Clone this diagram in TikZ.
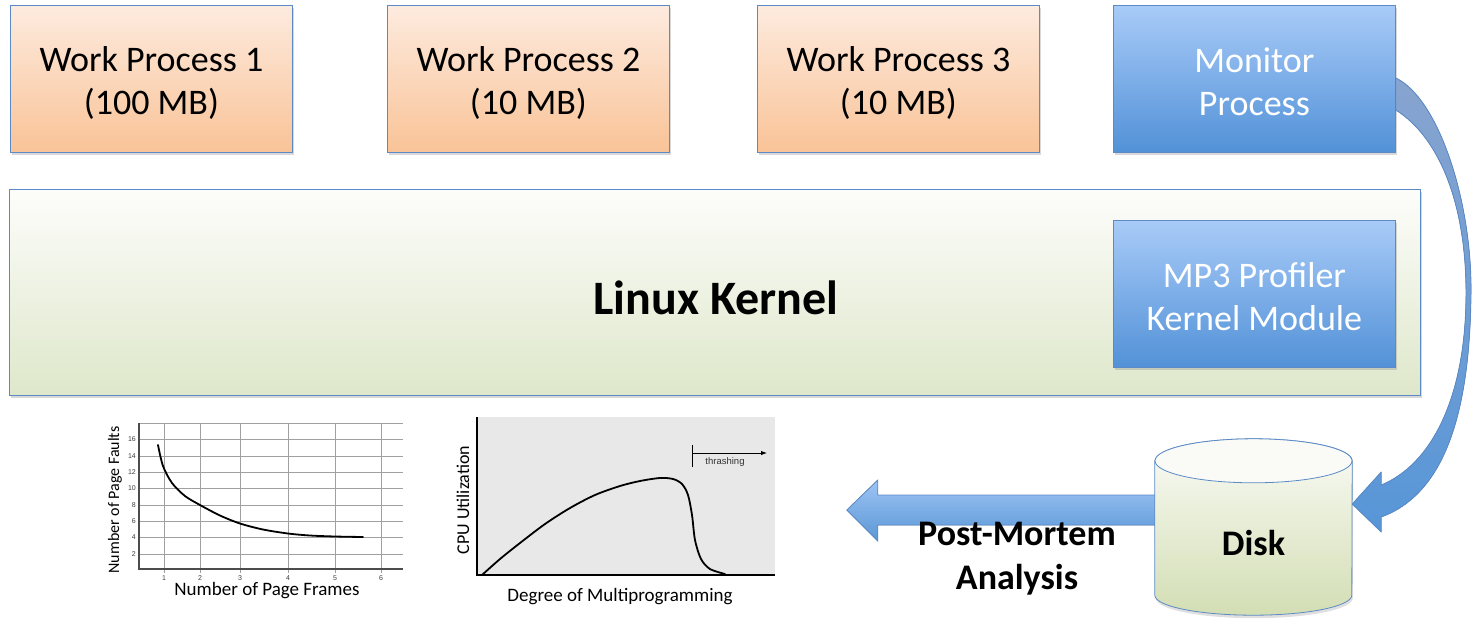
\documentclass[tikz,border=0pt]{standalone}
\usepackage{fontspec}
\setmainfont{Carlito}
\newfontfamily\arialf{Liberation Sans}
\usetikzlibrary{shadows,calc,arrows.meta}
\definecolor{bordblue}{HTML}{5B8AC6}
\definecolor{orTop}{HTML}{FDEBDF}
\definecolor{orBot}{HTML}{F9C397}
\definecolor{blTop}{HTML}{A8CBF8}
\definecolor{blBot}{HTML}{5291D7}
\definecolor{kTop}{HTML}{FDFDFB}
\definecolor{kBot}{HTML}{DEE7CA}
\definecolor{dTop}{HTML}{FAFBF6}
\definecolor{dBot}{HTML}{D3DEB4}
\definecolor{bandTop}{HTML}{88A4CF}
\definecolor{bandBot}{HTML}{5796D8}
\definecolor{arTop}{HTML}{9EC4F4}
\definecolor{arBot}{HTML}{5A97D6}
\definecolor{gridc}{HTML}{A0A0A0}
\definecolor{plotbg}{HTML}{E8E8E8}
\begin{document}
\begin{tikzpicture}[x=1pt,y=-1pt,
  boxshadow/.style={drop shadow={shadow xshift=1.5pt,shadow yshift=-3pt,opacity=0.3}},
  procbox/.style={draw=bordblue, line width=0.8pt, minimum width=282pt, minimum height=147pt,
    anchor=north west, inner sep=0pt, boxshadow},
  orangebox/.style={procbox, top color=orTop, bottom color=orBot},
  bluebox/.style={procbox, top color=blTop, bottom color=blBot},
  boxtext/.style={align=center, inner sep=0pt, font=\fontsize{36}{43}\selectfont},
  blocklbl/.style={font=\fontsize{36}{44}\selectfont\bfseries, align=center},
  tick/.style={font=\arialf\fontsize{7}{8}\selectfont, text=black!75, inner sep=0pt},
  axlbl/.style={inner sep=0pt},
  gridln/.style={draw=gridc, line width=0.9pt},
  curve/.style={line width=1.8pt, line join=round, line cap=round}
]
\useasboundingbox (0,0) rectangle (1480,630);
\fill[white] (0,0) rectangle (1480,630);

% --- top row processes ---
\node[orangebox] (wp1) at (10,5) {};
\node[orangebox] (wp2) at (387,5) {};
\node[orangebox] (wp3) at (757,5) {};
\node[bluebox] (mon) at (1113,5) {};
\node[boxtext] (wp1t) at ($(wp1.center)+(0,4)$) {Work Process 1\\(100 MB)};
\node[boxtext] (wp2t) at ($(wp2.center)+(0,4)$) {Work Process 2\\(10 MB)};
\node[boxtext] (wp3t) at ($(wp3.center)+(0,4)$) {Work Process 3\\(10 MB)};
\node[boxtext, text=white] (mont) at ($(mon.center)+(0,3)$) {Monitor\\Process};

% --- kernel ---
\node[draw=bordblue, line width=0.8pt, top color=kTop, bottom color=kBot, boxshadow,
  minimum width=1411pt, minimum height=206pt, anchor=north west, inner sep=0pt] (kernel) at (9,189) {};
\node[font=\fontsize{48}{58}\selectfont\bfseries, inner sep=0pt] (kernelt) at ($(kernel.center)+(1,5)$) {Linux Kernel};
\node[bluebox] (mp3) at (1113,220) {};
\node[boxtext, text=white] (mp3t) at ($(mp3.center)+(0,3)$) {MP3 Profiler\\Kernel Module};

% --- disk (cylinder) ---
\node[minimum width=197pt, minimum height=176pt, inner sep=0pt] (disk) at (1253.5,527) {};
\coordinate (dtl) at ($(disk.north west)+(0,22)$);
\coordinate (dtr) at ($(disk.north east)+(0,22)$);
\coordinate (dbl) at ($(disk.south west)+(0,-20)$);

% left block arrow (behind disk)
\coordinate (laS1) at ($(disk.west)+(2,-32)$);
\coordinate (laS2) at ($(disk.west)+(2,-2)$);
\coordinate (laTip) at ($(disk.west)+(-308,-17)$);
\fill[top color=arTop, bottom color=arBot, draw=bordblue, line width=0.8pt]
  (laS1) -- ($(laTip)+(31,-15)$) -- ($(laTip)+(31,-30)$) -- (laTip)
  -- ($(laTip)+(31,31)$) -- ($(laTip)+(31,15)$) -- (laS2) -- cycle;

\path[drop shadow={shadow xshift=1pt,shadow yshift=-3pt,opacity=0.25}, top color=dTop, bottom color=dBot, draw=bordblue, line width=0.8pt]
  (dtl) -- (dbl) arc[start angle=180, end angle=0, x radius=98.5, y radius=20]
  -- (dtr) arc[start angle=0, end angle=-180, x radius=98.5, y radius=22] -- cycle;
\draw[bordblue, line width=0.8pt, fill=dTop] ($(dtl)!0.5!(dtr)$) ellipse [x radius=98.5, y radius=22];
\node[font=\fontsize{36}{44}\selectfont\bfseries] (disklbl) at ($(disk.center)+(0,16)$) {Disk};

\node[blocklbl] (pm) at (1017,559) {Post-Mortem\\Analysis};

% --- curved arrow monitor -> disk ---
\coordinate (bA) at ($(mon.north east)+(0,73)$);
\coordinate (bD) at ($(mon.north east)+(0,105)$);
\coordinate (bTip) at ($(disk.east)+(0,-23)$);
\coordinate (bUp) at ($(bTip)+(29,-32)$);
\coordinate (bC) at ($(bTip)+(29,-19)$);
\coordinate (bB) at ($(bTip)+(29,13)$);
\coordinate (bLow) at ($(bTip)+(29,28)$);
\fill[top color=bandTop, bottom color=bandBot, draw=bordblue, line width=0.8pt, line join=round]
  (bA) .. controls (1438,98) and (1472,200) .. (1471,293)
  .. controls (1470,400) and (1450,492) .. (bB)
  -- (bLow) -- (bTip) -- (bUp) -- (bC)
  .. controls (1430,465) and (1466,400) .. (1466,293)
  .. controls (1466,205) and (1440,138) .. (bD) -- cycle;

% --- graph 1: page faults ---
\foreach \gy in {423,439,456,472,488,505,521,537,554}
  \draw[gridln] (139,\gy) -- (403,\gy);
\foreach \gx in {164,200,240,288,335,381}
  \draw[gridln] (\gx,423) -- (\gx,573);
\draw[black!70, line width=1.3pt] (139,423) -- (139,569) -- (403,569);
\foreach \v/\gy in {16/439,14/456,12/472,10/488,8/505,6/521,4/537,2/554}
  \node[tick, anchor=east] (yt\v) at (136,\gy) {\v};
\foreach \v/\gx in {1/164,2/200,3/240,4/288,5/335,6/381}
  \node[tick] (xt\v) at (\gx,578) {\v};
\draw[curve] plot[smooth] coordinates {(158,445) (163,466) (172,483) (185,496)
  (200,505) (220,515.5) (240,523.5) (263,529.5) (288,533.5) (310,535.5) (335,536.5) (363,537)};
\node[axlbl, rotate=90, font=\fontsize{16}{18}\selectfont] (g1y) at (115,500) {Number of Page Faults};
\node[axlbl, font=\fontsize{19}{21}\selectfont] (g1x) at (267,591) {Number of Page Frames};

% --- graph 2: CPU utilization ---
\fill[plotbg] (477,417) rectangle (775,575);
\draw[black, line width=1.3pt] (477,417) -- (477,575) -- (775,575);
\draw[curve] plot[smooth] coordinates {(482,575) (500,559) (520,543) (545,524) (570,508)
  (595,495) (620,486) (640,481) (660,478) (673,479) (682,484) (688,495) (692,515) (695,540)
  (701,559) (710,569) (725,574)};
\coordinate (thA) at (692,453);
\coordinate (thB) at (767,453);
\draw[line width=0.9pt] (692,445) -- (692,467);
\draw[line width=0.9pt, -{Latex[length=6pt,width=4.5pt]}] (thA) -- (thB);
\node[font=\arialf\fontsize{9.5}{11}\selectfont, text=black!80, inner sep=0pt] (thr) at (725,462) {thrashing};
\node[axlbl, rotate=90, font=\fontsize{18}{20}\selectfont] (g2y) at (463,500) {CPU Utilization};
\node[axlbl, font=\fontsize{19}{21}\selectfont] (g2x) at (620,597) {Degree of Multiprogramming};
\end{tikzpicture}
\end{document}
